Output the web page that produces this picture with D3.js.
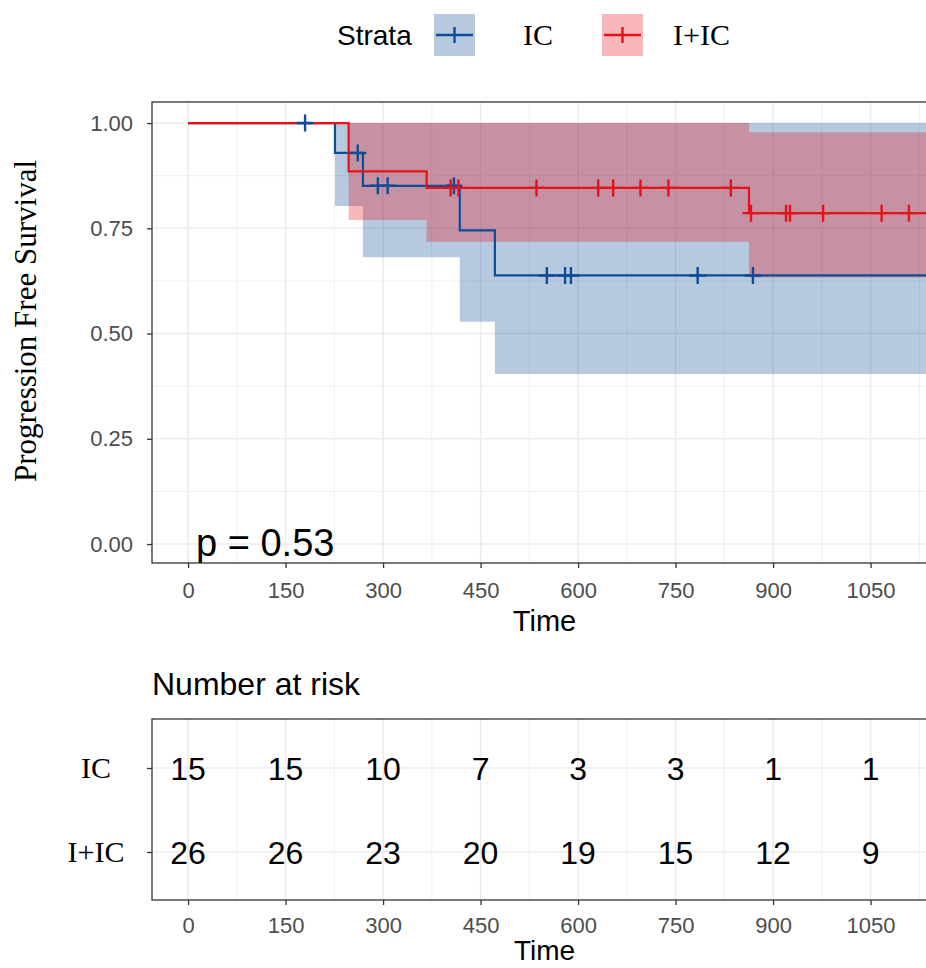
<!DOCTYPE html>
<meta charset="utf-8">

<!-- Load d3.js -->
<script src="https://d3js.org/d3.v7.min.js"></script>

<style>
  body { margin: 0; background: #fff; }
</style>

<!-- Create a div where the graph will take place -->
<div id="my_dataviz"></div>

<script>
  // Kaplan-Meier steps (time, survival, 95% band)
  var icTime    = [0, 226, 269, 418, 472];
  var icSurv    = [1.00, 0.929, 0.851, 0.745, 0.638];
  var icLower   = [1.00, 0.803, 0.681, 0.528, 0.404];
  var icUpper   = [1.00, 1.00, 1.00, 1.00, 1.00];
  var icCensor  = [180, 261, 292, 307, 409, 552, 580, 589, 784, 869];

  var iicTime   = [0, 247, 367, 863];
  var iicSurv   = [1.00, 0.885, 0.846, 0.786];
  var iicLower  = [1.00, 0.770, 0.718, 0.633];
  var iicUpper  = [1.00, 1.00, 1.00, 0.978];
  var iicCensor = [404, 416, 536, 631, 654, 696, 739, 835, 866, 920, 926, 977, 1067, 1109];

  // curves run on past the right edge of the picture
  var lastTime = 1150;

  // ticks and risk table
  var timeTicks = [0, 150, 300, 450, 600, 750, 900, 1050];
  var survTicks = [0, 0.25, 0.50, 0.75, 1.00];
  var strata    = ["IC", "I+IC"];
  var riskIC    = [15, 15, 10, 7, 3, 3, 1, 1];
  var riskIIC   = [26, 26, 23, 20, 19, 15, 12, 9];
  var pText     = "p = 0.53";

  var colIC  = "#0F4C96",
      colIIC = "#E8101A",
      gridCol = "#EBEBEB",
      borderCol = "#333333",
      tickTextCol = "#4D4D4D";
  var sans = "'Liberation Sans', Arial, sans-serif",
      serif = "'Liberation Serif', 'Times New Roman', serif";

  var W = 926, H = 968;

  var svg = d3.select("#my_dataviz")
    .append("svg")
      .attr("width", W)
      .attr("height", H)
      .style("display", "block");

  // panel box of the survival plot
  var p = {left: 152, right: 945, top: 102, bottom: 563};

  var x = d3.scaleLinear()
    .domain([-55.5, 1164.5])
    .range([p.left, p.right]);
  var y = d3.scaleLinear()
    .domain([-0.045, 1.05])
    .range([p.bottom, p.top]);

  svg.append("clipPath").attr("id", "clipTop")
    .append("rect")
      .attr("x", p.left).attr("y", p.top)
      .attr("width", p.right - p.left).attr("height", p.bottom - p.top);

  var plot = svg.append("g");
  var inner = plot.append("g").attr("clip-path", "url(#clipTop)");

  // grid
  var minorX = timeTicks.map(function(d) { return d + 75; });
  var minorY = [0.125, 0.375, 0.625, 0.875];
  inner.selectAll(".mx").data(minorX).enter().append("line")
    .attr("x1", x).attr("x2", x).attr("y1", p.top).attr("y2", p.bottom)
    .attr("stroke", gridCol).attr("stroke-width", 0.8);
  inner.selectAll(".my").data(minorY).enter().append("line")
    .attr("y1", y).attr("y2", y).attr("x1", p.left).attr("x2", p.right)
    .attr("stroke", gridCol).attr("stroke-width", 0.8);
  inner.selectAll(".gx").data(timeTicks).enter().append("line")
    .attr("x1", x).attr("x2", x).attr("y1", p.top).attr("y2", p.bottom)
    .attr("stroke", gridCol).attr("stroke-width", 1.5);
  inner.selectAll(".gy").data(survTicks).enter().append("line")
    .attr("y1", y).attr("y2", y).attr("x1", p.left).attr("x2", p.right)
    .attr("stroke", gridCol).attr("stroke-width", 1.5);

  function steps(times, vals) {
    var pts = times.map(function(t, i) { return {t: t, v: vals[i]}; });
    pts.push({t: lastTime, v: vals[vals.length - 1]});
    return pts;
  }
  function band(times, lo, hi) {
    var pts = times.map(function(t, i) { return {t: t, lo: lo[i], hi: hi[i]}; });
    pts.push({t: lastTime, lo: lo[lo.length - 1], hi: hi[hi.length - 1]});
    return pts;
  }
  function survAt(times, vals, t) {
    var v = vals[0];
    times.forEach(function(tt, i) { if (tt <= t) v = vals[i]; });
    return v;
  }

  var area = d3.area()
    .curve(d3.curveStepAfter)
    .x(function(d) { return x(d.t); })
    .y0(function(d) { return y(d.lo); })
    .y1(function(d) { return y(d.hi); });
  var line = d3.line()
    .curve(d3.curveStepAfter)
    .x(function(d) { return x(d.t); })
    .y(function(d) { return y(d.v); });

  var groups = [
    {name: "IC", col: colIC, time: icTime, surv: icSurv, lo: icLower, hi: icUpper, cens: icCensor},
    {name: "I+IC", col: colIIC, time: iicTime, surv: iicSurv, lo: iicLower, hi: iicUpper, cens: iicCensor}
  ];

  // ribbons
  groups.forEach(function(g) {
    inner.append("path")
      .datum(band(g.time, g.lo, g.hi))
      .attr("d", area)
      .attr("fill", g.col)
      .attr("fill-opacity", 0.3);
  });
  // curves
  groups.forEach(function(g) {
    inner.append("path")
      .datum(steps(g.time, g.surv))
      .attr("d", line)
      .attr("fill", "none")
      .attr("stroke", g.col)
      .attr("stroke-width", 2.2);
  });
  // censor marks
  var cs = 8.5;
  groups.forEach(function(g) {
    inner.selectAll(null).data(g.cens).enter().append("path")
      .attr("d", function(d) {
        var cx = x(d), cy = y(survAt(g.time, g.surv, d));
        return "M" + (cx - cs) + "," + cy + "H" + (cx + cs) +
               "M" + cx + "," + (cy - cs) + "V" + (cy + cs);
      })
      .attr("stroke", g.col)
      .attr("stroke-width", 2.4)
      .attr("fill", "none");
  });

  // p value
  inner.append("text")
    .attr("x", 196)
    .attr("y", 556)
    .style("font-family", sans)
    .style("font-size", "38px")
    .text(pText);

  // panel border
  plot.append("rect")
    .attr("x", p.left).attr("y", p.top)
    .attr("width", p.right - p.left).attr("height", p.bottom - p.top)
    .attr("fill", "none").attr("stroke", borderCol).attr("stroke-width", 1.3);

  function styleAxis(g) {
    g.select(".domain").remove();
    g.selectAll(".tick line").attr("stroke", borderCol).attr("stroke-width", 1.3);
    g.selectAll(".tick text")
      .attr("fill", tickTextCol)
      .style("font-family", sans)
      .style("font-size", "22px");
  }

  plot.append("g")
    .attr("transform", "translate(" + p.left + ",0)")
    .call(d3.axisLeft(y).tickValues(survTicks).tickFormat(d3.format(".2f")).tickSize(5).tickPadding(14))
    .call(styleAxis);
  plot.append("g")
    .attr("transform", "translate(0," + p.bottom + ")")
    .call(d3.axisBottom(x).tickValues(timeTicks).tickFormat(d3.format("d")).tickSize(5).tickPadding(14))
    .call(styleAxis);

  plot.append("text")
    .attr("x", (p.left + p.right) / 2 - 4)
    .attr("y", 631)
    .attr("text-anchor", "middle")
    .style("font-family", sans)
    .style("font-size", "29px")
    .text("Time");

  plot.append("text")
    .attr("transform", "translate(36,321)rotate(-90)")
    .attr("text-anchor", "middle")
    .style("font-family", serif)
    .style("font-size", "31px")
    .text("Progression Free Survival");

  // legend
  var leg = svg.append("g");
  leg.append("text")
    .attr("x", 337).attr("y", 45)
    .style("font-family", sans)
    .style("font-size", "28px")
    .text("Strata");
  var legKeys = [{x: 434, lab: 523}, {x: 602, lab: 673}];
  groups.forEach(function(g, i) {
    var k = legKeys[i];
    leg.append("rect")
      .attr("x", k.x).attr("y", 14).attr("width", 41).attr("height", 42)
      .attr("fill", g.col).attr("fill-opacity", 0.3);
    leg.append("path")
      .attr("d", "M" + (k.x + 2) + ",35H" + (k.x + 39) +
                 "M" + (k.x + 20.5) + ",27V43")
      .attr("stroke", g.col).attr("stroke-width", 2.4);
    leg.append("text")
      .attr("x", k.lab).attr("y", 45)
      .style("font-family", serif)
      .style("font-size", "30px")
      .text(g.name);
  });

  // risk table
  var r = {left: 152, right: 945, top: 719, bottom: 900};
  var ry = d3.scalePoint().domain(strata).range([768, 852]);

  svg.append("clipPath").attr("id", "clipRisk")
    .append("rect")
      .attr("x", r.left).attr("y", r.top)
      .attr("width", r.right - r.left).attr("height", r.bottom - r.top);

  var risk = svg.append("g");
  var rin = risk.append("g").attr("clip-path", "url(#clipRisk)");

  rin.selectAll(".rmx").data(minorX).enter().append("line")
    .attr("x1", x).attr("x2", x).attr("y1", r.top).attr("y2", r.bottom)
    .attr("stroke", gridCol).attr("stroke-width", 0.8);
  rin.selectAll(".rgx").data(timeTicks).enter().append("line")
    .attr("x1", x).attr("x2", x).attr("y1", r.top).attr("y2", r.bottom)
    .attr("stroke", gridCol).attr("stroke-width", 1.5);
  rin.selectAll(".rgy").data(strata).enter().append("line")
    .attr("y1", ry).attr("y2", ry).attr("x1", r.left).attr("x2", r.right)
    .attr("stroke", gridCol).attr("stroke-width", 1.5);

  var riskRows = [riskIC, riskIIC];
  riskRows.forEach(function(row, i) {
    rin.selectAll(null).data(row).enter().append("text")
      .attr("x", function(d, j) { return x(timeTicks[j]); })
      .attr("y", ry(strata[i]))
      .attr("dy", "0.36em")
      .attr("text-anchor", "middle")
      .style("font-family", sans)
      .style("font-size", "32px")
      .text(function(d) { return d; });
  });

  risk.append("rect")
    .attr("x", r.left).attr("y", r.top)
    .attr("width", r.right - r.left).attr("height", r.bottom - r.top)
    .attr("fill", "none").attr("stroke", borderCol).attr("stroke-width", 1.3);

  var ryAxis = risk.append("g")
    .attr("transform", "translate(" + r.left + ",0)")
    .call(d3.axisLeft(ry).tickSize(5).tickFormat(""));
  ryAxis.call(styleAxis);
  risk.selectAll(".rowlab").data(strata).enter().append("text")
    .attr("x", 96)
    .attr("y", ry)
    .attr("dy", "0.33em")
    .attr("text-anchor", "middle")
    .style("font-family", serif)
    .style("font-size", "30px")
    .text(function(d) { return d; });

  risk.append("g")
    .attr("transform", "translate(0," + r.bottom + ")")
    .call(d3.axisBottom(x).tickValues(timeTicks).tickFormat(d3.format("d")).tickSize(5).tickPadding(12))
    .call(styleAxis);

  risk.append("text")
    .attr("x", (r.left + r.right) / 2 - 4)
    .attr("y", 960)
    .attr("text-anchor", "middle")
    .style("font-family", sans)
    .style("font-size", "28px")
    .text("Time");

  risk.append("text")
    .attr("x", 152)
    .attr("y", 695)
    .style("font-family", sans)
    .style("font-size", "32px")
    .text("Number at risk");
</script>
